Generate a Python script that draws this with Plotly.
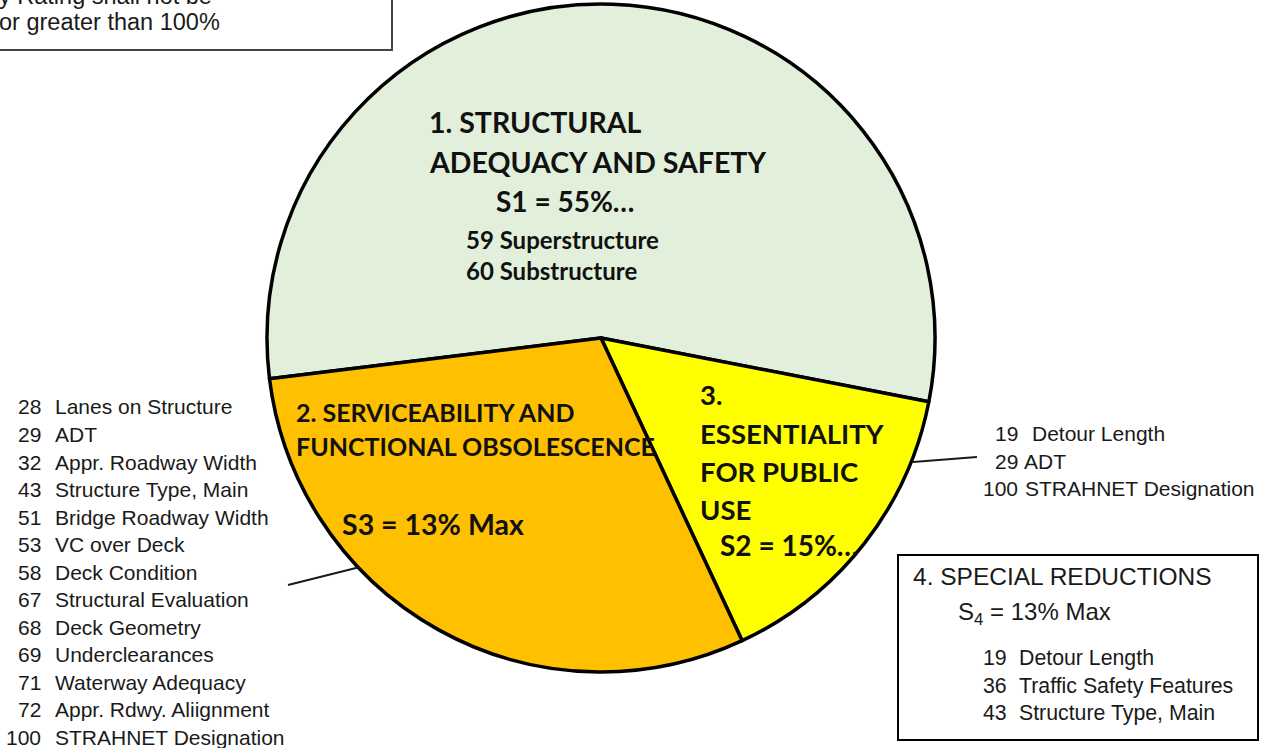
import plotly.graph_objects as go

W, H = 1263, 748

# pie data (clockwise from the left edge)
categories = [
    "1. STRUCTURAL ADEQUACY AND SAFETY",
    "3. ESSENTIALITY FOR PUBLIC USE",
    "2. SERVICEABILITY AND FUNCTIONAL OBSOLESCENCE",
]
values = [55, 15, 30]
colors = ["#E2EFDA", "#FFFF00", "#FFC000"]

# item lists
s3_numbers = ["28", "29", "32", "43", "51", "53", "58", "67", "68", "69", "71", "72", "100"]
s3_items = [
    "Lanes on Structure", "ADT", "Appr. Roadway Width", "Structure Type, Main",
    "Bridge Roadway Width", "VC over Deck", "Deck Condition", "Structural Evaluation",
    "Deck Geometry", "Underclearances", "Waterway Adequacy", "Appr. Rdwy. Aliignment",
    "STRAHNET Designation",
]
s2_numbers = ["19", "29", "100"]
s2_items = ["Detour Length", "ADT", "STRAHNET Designation"]
s4_numbers = ["19", "36", "43"]
s4_items = ["Detour Length", "Traffic Safety Features", "Structure Type, Main"]


def px(x, y):
    return x / W, 1 - y / H


cx, cy, r = 601, 338, 334

fig = go.Figure()
fig.add_trace(
    go.Pie(
        labels=categories,
        values=values,
        sort=False,
        direction="clockwise",
        rotation=-97,
        marker=dict(colors=colors, line=dict(color="#000000", width=3.5)),
        textinfo="none",
        hoverinfo="label+percent",
        showlegend=False,
        domain=dict(x=[(cx - r) / W, (cx + r) / W], y=[1 - (cy + r) / H, 1 - (cy - r) / H]),
    )
)

annotations = []


def add_text(text, x, y, size, bold=False, family="Liberation Sans, Arial", anchor="left", color="#1a1a1a"):
    ax, ay = px(x, y)
    annotations.append(
        dict(
            text=text, x=ax, y=ay, xref="paper", yref="paper",
            xanchor=anchor, yanchor="middle", showarrow=False, borderpad=0,
            font=dict(family=family, size=size, color=color, weight="bold" if bold else "normal"),
        )
    )


label_font = "Lato, Noto Sans"
# slice labels
add_text("1. STRUCTURAL", 428, 122, 28.5, True, label_font, color="#111")
add_text("ADEQUACY AND SAFETY", 428, 162, 28.5, True, label_font, color="#111")
add_text("S1 = 55%…", 495, 201, 28, True, label_font, color="#111")
add_text("59 Superstructure", 465, 239, 24, True, label_font, color="#111")
add_text("60 Substructure", 465, 270, 24, True, label_font, color="#111")
add_text("2. SERVICEABILITY AND", 295, 412, 25, True, label_font, color="#111")
add_text("FUNCTIONAL OBSOLESCENCE", 295, 446, 25, True, label_font, color="#111")
add_text("S3 = 13% Max", 341, 524, 28.5, True, label_font, color="#111")
add_text("3.", 699, 394, 27.5, True, label_font, color="#111")
add_text("ESSENTIALITY", 699, 433, 27.5, True, label_font, color="#111")
add_text("FOR PUBLIC", 699, 471, 27.5, True, label_font, color="#111")
add_text("USE", 699, 510, 27.5, True, label_font, color="#111")
add_text("S2 = 15%…", 719, 545, 28, True, label_font, color="#111")

# left list (serviceability items)
for i, (n, item) in enumerate(zip(s3_numbers, s3_items)):
    y = 407 + i * 27.5
    add_text(n, 42, y, 21, anchor="right")
    add_text(item, 54, y, 21)

# right list (essentiality items)
label_x = [1031, 1023, 1024]
for i, (n, item) in enumerate(zip(s2_numbers, s2_items)):
    y = 433 + i * 28
    add_text(n, 1019, y, 21, anchor="right")
    add_text(item, label_x[i], y, 21)

# special reductions box
add_text("4. SPECIAL REDUCTIONS", 912, 576, 24.5)
add_text("S<sub>4</sub> = 13% Max", 957, 613, 24)
for i, (n, item) in enumerate(zip(s4_numbers, s4_items)):
    y = 658 + i * 27.5
    add_text(n, 1008, y, 21.3, anchor="right")
    add_text(item, 1018, y, 21.3)

# top-left note (cut off at the page edge)
add_text("y Rating shall not be", -2, -4, 23.5)
add_text("or greater than 100%", -2, 22, 23.5)

shapes = []
x0, y0 = px(-10, -10)
x1, y1 = px(392, 50)
shapes.append(dict(type="rect", xref="paper", yref="paper", x0=x0, y0=y0, x1=x1, y1=y1,
                   line=dict(color="#444444", width=2)))
x0, y0 = px(898, 555)
x1, y1 = px(1258, 740)
shapes.append(dict(type="rect", xref="paper", yref="paper", x0=x0, y0=y0, x1=x1, y1=y1,
                   line=dict(color="#000000", width=2)))
# leader lines
for (a, b), (c, d) in [((288, 585), (360, 567)), ((913, 462), (977, 457))]:
    lx0, ly0 = px(a, b)
    lx1, ly1 = px(c, d)
    shapes.append(dict(type="line", xref="paper", yref="paper", x0=lx0, y0=ly0, x1=lx1, y1=ly1,
                       line=dict(color="#1a1a1a", width=2)))

fig.update_layout(
    width=W,
    height=H,
    margin=dict(l=0, r=0, t=0, b=0),
    paper_bgcolor="#ffffff",
    plot_bgcolor="#ffffff",
    annotations=annotations,
    shapes=shapes,
)

# drop the default page margin so the figure fills the window
fig.write_html(
    "out.html",
    config={"displayModeBar": False},
    post_script="document.body.style.margin='0';",
)
